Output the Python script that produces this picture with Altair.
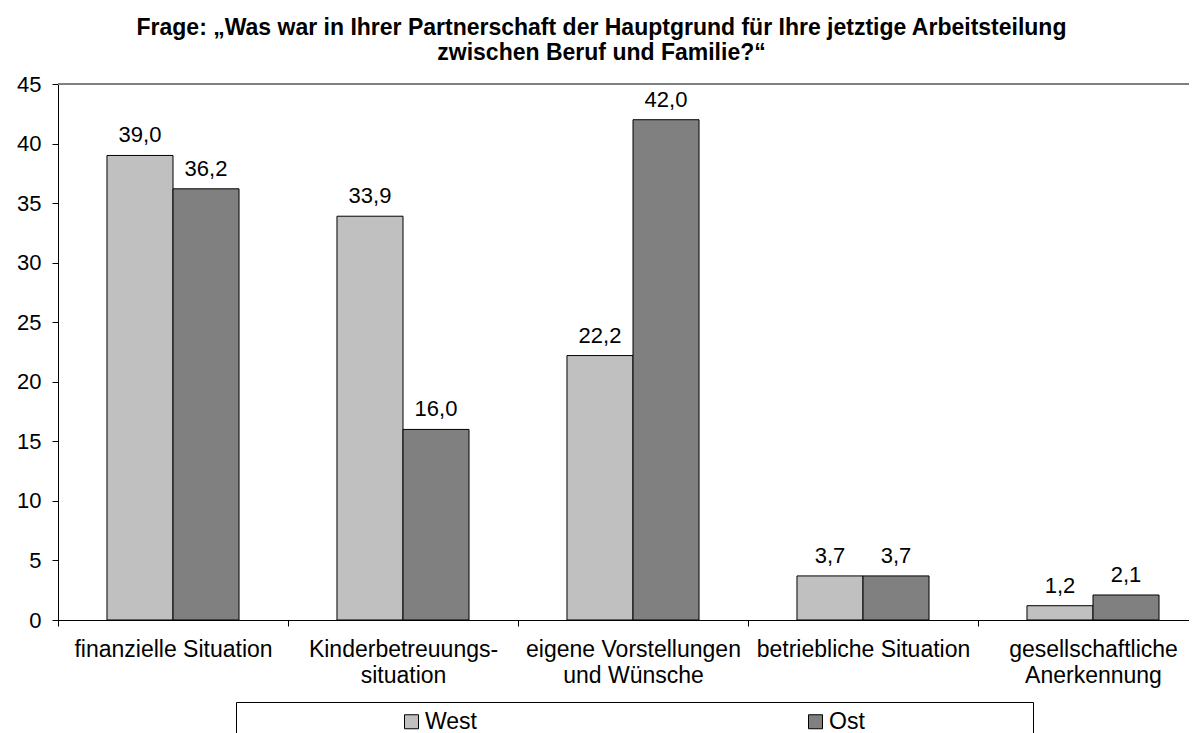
import altair as alt
import pandas as pd

# ---- data ----
categories = [
    "finanzielle Situation",
    "Kinderbetreuungs-\nsituation",
    "eigene Vorstellungen\nund Wünsche",
    "betriebliche Situation",
    "gesellschaftliche\nAnerkennung",
]
west = [39.0, 33.9, 22.2, 3.7, 1.2]
ost = [36.2, 16.0, 42.0, 3.7, 2.1]
series = ["West", "Ost"]
colors = ["#C0C0C0", "#808080"]
y_ticks = [0, 5, 10, 15, 20, 25, 30, 35, 40, 45]
title_lines = [
    "Frage: „Was war in Ihrer Partnerschaft der Hauptgrund für Ihre jetztige Arbeitsteilung",
    "zwischen Beruf und Familie?“",
]

rows = []
for i, c in enumerate(categories):
    rows.append({"Kategorie": c, "Region": "West", "Wert": west[i]})
    rows.append({"Kategorie": c, "Region": "Ost", "Wert": ost[i]})
df = pd.DataFrame(rows)

FONT = "Liberation Sans"
NB = "\u00a0"
lead = NB * 24
trail = NB * 25 + "\u200b"

x_enc = alt.X(
    "Kategorie:N",
    sort=categories,
    scale=alt.Scale(range=[0, 1150], paddingInner=0, paddingOuter=0),
    axis=alt.Axis(
        title=None,
        labelExpr="split(datum.label, '\\n')",
        labelAngle=0,
        labelFontSize=23,
        labelFont=FONT,
        labelColor="black",
        labelLineHeight=26,
        labelPadding=12,
        labelLimit=0,
        labelOverlap=False,
        tickBand="extent",
        tickSize=6,
        tickColor="black",
        domainColor="black",
        grid=False,
    ),
)
xoff = alt.XOffset(
    "Region:N", sort=series, scale=alt.Scale(paddingOuter=0.742, paddingInner=0)
)
y_enc = alt.Y(
    "Wert:Q",
    scale=alt.Scale(domain=[y_ticks[0], y_ticks[-1]], nice=False),
    axis=alt.Axis(
        title=None,
        values=y_ticks,
        labelFontSize=22,
        labelFont=FONT,
        labelColor="black",
        labelPadding=11,
        tickSize=6,
        tickColor="black",
        domainColor="black",
        grid=False,
    ),
)

legend = alt.Legend(
    title=None,
    orient="none",
    legendX=178,
    legendY=618,
    direction="horizontal",
    strokeColor="black",
    padding=8,
    symbolType="square",
    symbolSize=196,
    symbolStrokeColor="black",
    symbolStrokeWidth=1,
    symbolOffset=156,
    labelOffset=2,
    labelFontSize=23,
    labelFont=FONT,
    labelColor="black",
    labelLimit=1000,
    columnPadding=171,
    labelExpr=f"datum.label == 'Ost' ? '{lead}' + datum.label + '{trail}' : '{lead}' + datum.label",
)

bars = alt.Chart(df).mark_bar(stroke="black", strokeWidth=1).encode(
    x=x_enc,
    xOffset=xoff,
    y=y_enc,
    color=alt.Color(
        "Region:N",
        sort=series,
        scale=alt.Scale(domain=series, range=colors),
        legend=legend,
    ),
)

labels = (
    alt.Chart(df)
    .transform_calculate(txt="replace(format(datum.Wert, '.1f'), '.', ',')")
    .mark_text(dy=-13, baseline="alphabetic", fontSize=22, font=FONT, color="black")
    .encode(x=x_enc, xOffset=xoff, y=y_enc, text="txt:N")
)

top_rule = (
    alt.Chart(pd.DataFrame({"top": [y_ticks[-1]]}))
    .mark_rule(color="#808080", strokeWidth=2)
    .encode(y=alt.Y("top:Q"))
)

chart = (
    alt.layer(bars, labels, top_rule)
    .properties(
        width=1131,
        height=536,
        autosize="none",
        padding={"left": 50, "top": 76, "right": 0, "bottom": 113},
        title=alt.TitleParams(
            text=title_lines,
            fontSize=23,
            font=FONT,
            fontWeight="bold",
            anchor="middle",
            dx=-22,
            offset=8,
            lineHeight=25,
            color="black",
        ),
    )
    .configure_view(stroke=None)
)

chart.save("out.html", embed_options={"renderer": "svg", "actions": False})
